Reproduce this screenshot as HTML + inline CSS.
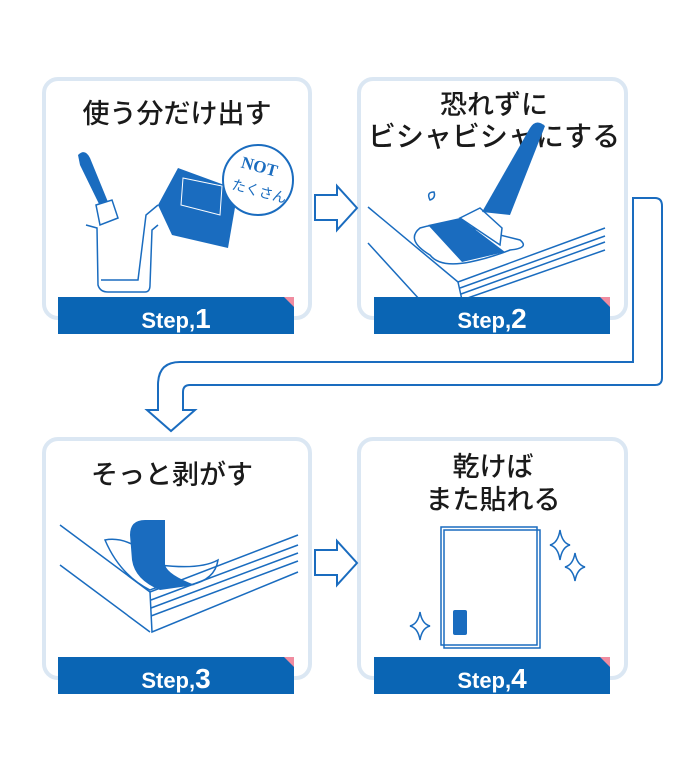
<!DOCTYPE html>
<html><head><meta charset="utf-8"><style>
html,body{margin:0;padding:0;background:#fff;}
svg{display:block;}
.t{font-family:"Liberation Sans","Noto Sans CJK JP",sans-serif;font-weight:500;fill:#1a1a1a;}
.s{font-family:"Liberation Sans",sans-serif;font-weight:bold;fill:#fff;}
</style></head><body>
<svg width="700" height="777" viewBox="0 0 700 777" xmlns="http://www.w3.org/2000/svg">
<g fill="#fff" stroke="#dbe7f3" stroke-width="4">
<rect x="44" y="79" width="266" height="239" rx="14"/>
<rect x="359" y="79" width="267" height="239" rx="14"/>
<rect x="44" y="439" width="266" height="239" rx="14"/>
<rect x="359" y="439" width="267" height="239" rx="14"/>
</g>
<path d="M633,198 L655,198 Q662,198 662,206 L662,378 Q662,385 655,385 L190,385 Q183,385 183,392 L183,410 L195,410 L171,431 L147,410 L158,410 L158,385 Q158,362 180,362 L633,362 Z" fill="#fff" stroke="#1a6cbf" stroke-width="2"/>
<g fill="#fff" stroke="#1a6cbf" stroke-width="2">
<path d="M315,195 L337,195 L337,186 L357,208 L337,230 L337,220 L315,220 Z"/>
<path d="M315,550 L337,550 L337,541 L357,563 L337,585 L337,575 L315,575 Z"/>
</g>
<text class="t" x="177" y="123" font-size="27" text-anchor="middle">使う分だけ出す</text>
<text class="t" x="494" y="114" font-size="27" text-anchor="middle">恐れずに</text>
<text class="t" x="494" y="146" font-size="28" text-anchor="middle">ビシャビシャにする</text>
<text class="t" x="172" y="484" font-size="27" text-anchor="middle">そっと剥がす</text>
<text class="t" x="493" y="476" font-size="27" text-anchor="middle">乾けば</text>
<text class="t" x="493" y="509" font-size="27" text-anchor="middle">また貼れる</text>
<!-- panel 1 -->
<g stroke="#1a6cbf" stroke-width="1.5" fill="none">
<path d="M86,225 L97,228 L98,285 Q100,292 108,292 L145,292 Q150,292 150,285 L152,230 L158,225"/>
<path d="M101,280 L138,280 L146,215 L158,205"/>
</g>
<path d="M78,155 Q85,148 90,158 L108,202 L100,206 L80,165 Z" fill="#1a6cbf"/>
<path d="M96,205 L112,200 L118,218 L100,225 Z" fill="#fff" stroke="#1a6cbf" stroke-width="1.5"/>
<path d="M158,205 L178,168 L238,190 L228,248 L172,235 Z" fill="#1a6cbf"/>
<path d="M183,178 L222,186 L220,215 L181,205 Z" fill="none" stroke="#fff" stroke-width="1"/>
<circle cx="258" cy="180" r="35" fill="#fff" stroke="#1a6cbf" stroke-width="2"/>
<text x="258" y="172" font-size="17" font-family="Liberation Serif,serif" font-weight="bold" fill="#1a6cbf" text-anchor="middle" transform="rotate(15 258 172)">NOT</text>
<text x="258" y="196" font-size="14" font-family="Liberation Sans,'Noto Sans CJK JP',sans-serif" fill="#1a6cbf" text-anchor="middle" transform="rotate(15 258 196)">たくさん</text>
<!-- panel 2 -->
<g stroke="#1a6cbf" stroke-width="1.5" fill="none">
<path d="M368,207 L458,282 L605,228"/>
<path d="M368,243 L420,300"/>
<path d="M458,282 L462,300 L605,250"/>
<path d="M460,288 L605,236 M461,294 L605,242"/>
<path d="M420,228 Q440,222 460,225 L520,240 Q530,248 510,250 Q490,258 470,262 Q440,268 430,255 Q405,240 420,228 Z"/>
<path d="M430,200 q-4,-8 4,-8 q2,6 -4,8 z"/>
</g>
<path d="M428,225 L460,218 L505,252 L462,262 Z" fill="#1a6cbf"/>
<path d="M460,218 L480,208 L502,228 L500,245 Z" fill="#fff" stroke="#1a6cbf" stroke-width="1.5"/>
<path d="M482,212 L530,128 Q536,118 545,126 L510,215 Z" fill="#1a6cbf"/>
<!-- panel 3 -->
<g stroke="#1a6cbf" stroke-width="1.5" fill="none">
<path d="M60,525 L150,592 L298,535"/>
<path d="M60,565 L150,632"/>
<path d="M150,592 L152,632 L298,572"/>
<path d="M151,600 L298,545 M151,608 L298,553 M151,616 L298,561"/>
<path d="M105,540 Q130,535 160,565 Q200,570 218,560 Q215,580 190,585 Q160,585 150,590 Q120,575 105,540 Z"/>
</g>
<path d="M130,535 Q130,520 145,520 L165,520 L165,565 Q168,575 195,585 L160,590 Q135,580 132,560 Z" fill="#1a6cbf"/>
<!-- panel 4 -->
<rect x="444" y="530" width="96" height="118" fill="#fff" stroke="#1a6cbf" stroke-width="1.5"/>
<rect x="441" y="527" width="96" height="118" fill="none" stroke="#1a6cbf" stroke-width="1.5"/>
<rect x="453" y="610" width="14" height="25" rx="2" fill="#1a6cbf"/>
<g fill="none" stroke="#1a6cbf" stroke-width="1.5">
<path d="M560,530 Q562,543 570,545 Q562,547 560,560 Q558,547 550,545 Q558,543 560,530 Z"/>
<path d="M575,553 Q577,565 585,567 Q577,569 575,581 Q573,569 565,567 Q573,565 575,553 Z"/>
<path d="M420,612 Q422,624 430,626 Q422,628 420,640 Q418,628 410,626 Q418,624 420,612 Z"/>
</g>
<g fill="#0a65b4">
<rect x="58" y="297" width="236" height="37"/>
<rect x="374" y="297" width="236" height="37"/>
<rect x="58" y="657" width="236" height="37"/>
<rect x="374" y="657" width="236" height="37"/>
</g>
<g fill="#f08ca0">
<path d="M284,297 L294,297 L294,307 Z"/>
<path d="M600,297 L610,297 L610,307 Z"/>
<path d="M284,657 L294,657 L294,667 Z"/>
<path d="M600,657 L610,657 L610,667 Z"/>
</g>
<text class="s" x="176" y="328" font-size="22" text-anchor="middle">Step,<tspan font-size="28">1</tspan></text>
<text class="s" x="492" y="328" font-size="22" text-anchor="middle">Step,<tspan font-size="28">2</tspan></text>
<text class="s" x="176" y="688" font-size="22" text-anchor="middle">Step,<tspan font-size="28">3</tspan></text>
<text class="s" x="492" y="688" font-size="22" text-anchor="middle">Step,<tspan font-size="28">4</tspan></text>
</svg>
</body></html>
